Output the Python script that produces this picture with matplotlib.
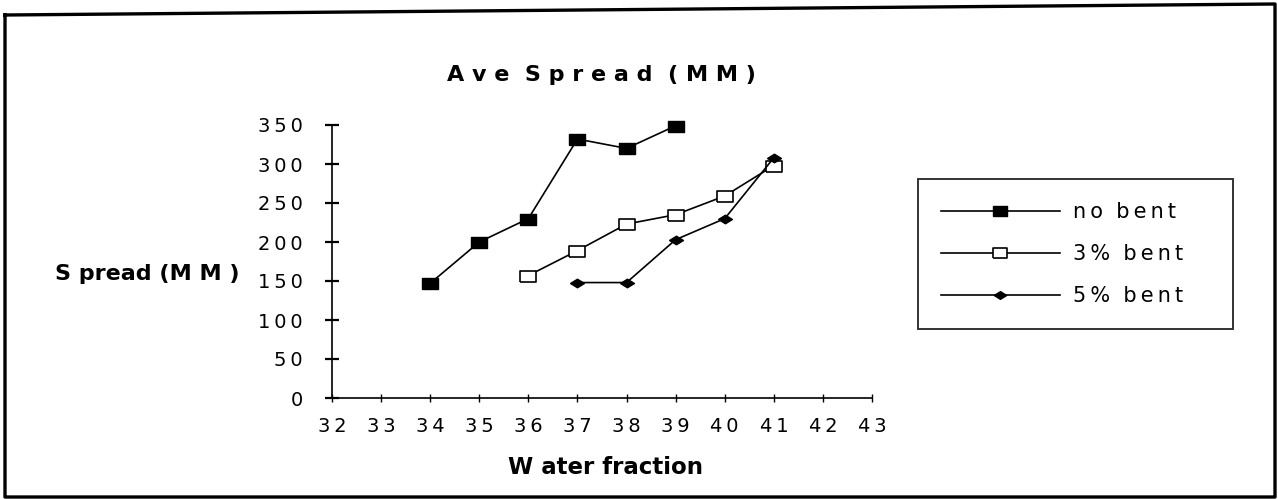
import matplotlib
matplotlib.use("Agg")
import matplotlib.pyplot as plt
from matplotlib.lines import Line2D

# ---- data ----
x_no_bent = [34, 35, 36, 37, 38, 39]
y_no_bent = [147, 200, 230, 332, 320, 349]
x_3_bent = [36, 37, 38, 39, 40, 41]
y_3_bent = [157, 189, 223, 235, 259, 298]
x_5_bent = [37, 38, 39, 40, 41]
y_5_bent = [148, 148, 203, 230, 308]
series_labels = ["no bent", "3 %  bent", "5 %  bent"]
x_ticks = list(range(32, 44))
y_ticks = [0, 50, 100, 150, 200, 250, 300, 350]

W, H = 1278, 499
fig = plt.figure(figsize=(W / 100, H / 100), dpi=100)
fig.patch.set_facecolor("white")

def fx(px):
    return px / W

def fy(py):
    return 1 - py / H

FONT = "DejaVu Sans"
TH = "\u2009"  # thin space used for letter tracking

def track(s):
    # letter-space a string: thin space between letters, wider gap between words
    parts = s.split("  ") if "  " in s else s.split(" ")
    out = []
    for p in parts:
        chars = [c for c in p if c != " "]
        out.append(TH.join(chars))
    return "  ".join(out)

ax = fig.add_axes([fx(332), fy(398), fx(872) - fx(332), fy(125) - fy(398)])
ax.set_xlim(32, 43)
ax.set_ylim(0, 350)
for s in ["top", "right"]:
    ax.spines[s].set_visible(False)
for s in ["left", "bottom"]:
    ax.spines[s].set_linewidth(1.2)
    ax.spines[s].set_color("black")

ax.set_xticks(x_ticks)
ax.set_xticklabels([TH.join(str(t)) for t in x_ticks], fontsize=14, family=FONT)
ax.set_yticks(y_ticks)
ax.set_yticklabels([TH.join(str(t)) for t in y_ticks], fontsize=14, family=FONT)
ax.tick_params(axis="y", direction="inout", length=10, width=1.6, pad=16)
ax.tick_params(axis="x", direction="inout", length=6, width=1.0, pad=11)

rect = [(-1, -0.72), (1, -0.72), (1, 0.72), (-1, 0.72), (-1, -0.72)]
diamond = [(-1, 0), (0, 0.62), (1, 0), (0, -0.62), (-1, 0)]

l1, = ax.plot(x_no_bent, y_no_bent, color="black", lw=1.2, marker=rect, ms=11,
              mfc="black", mec="black", mew=1.0, label=series_labels[0], clip_on=False)
l2, = ax.plot(x_3_bent, y_3_bent, color="black", lw=1.2, marker=rect, ms=11,
              mfc="white", mec="black", mew=1.2, label=series_labels[1], clip_on=False)
l3, = ax.plot(x_5_bent, y_5_bent, color="black", lw=1.2, marker=diamond, ms=10,
              mfc="black", mec="black", mew=1.0, label=series_labels[2], clip_on=False)

# texts
fig.text(fx(601), fy(81), "A v e  S p r e a d  ( M M )", ha="center", va="baseline",
         fontsize=16, fontweight="bold", family=FONT)
fig.text(fx(55), fy(280), "S pread (M M )", ha="left", va="baseline",
         fontsize=16, fontweight="bold", family=FONT)
fig.text(fx(605), fy(474), "W ater fraction", ha="center", va="baseline",
         fontsize=16.5, fontweight="bold", family=FONT)

# legend
leg_labels = [track(s) for s in series_labels]
leg = fig.legend(handles=[l1, l2, l3], labels=leg_labels,
                 loc="upper left",
                 bbox_to_anchor=(fx(918), fy(328), fx(1233) - fx(918), fy(179) - fy(328)),
                 bbox_transform=fig.transFigure, mode="expand",
                 prop={"family": FONT, "size": 15},
                 frameon=True, fancybox=False, shadow=False,
                 handlelength=5.7, handletextpad=0.65, borderpad=1.1,
                 labelspacing=1.06, borderaxespad=0, markerscale=0.9)
leg.get_frame().set_edgecolor("black")
leg.get_frame().set_linewidth(1.4)

# outer scanned frame
frame_pts = [(5, 15), (1275, 4), (1275, 497), (5, 497), (5, 15)]
fig.add_artist(Line2D([fx(p[0]) for p in frame_pts], [fy(p[1]) for p in frame_pts],
                      transform=fig.transFigure, color="black", lw=2.4))

fig.savefig("out.png", dpi=100, facecolor="white")
